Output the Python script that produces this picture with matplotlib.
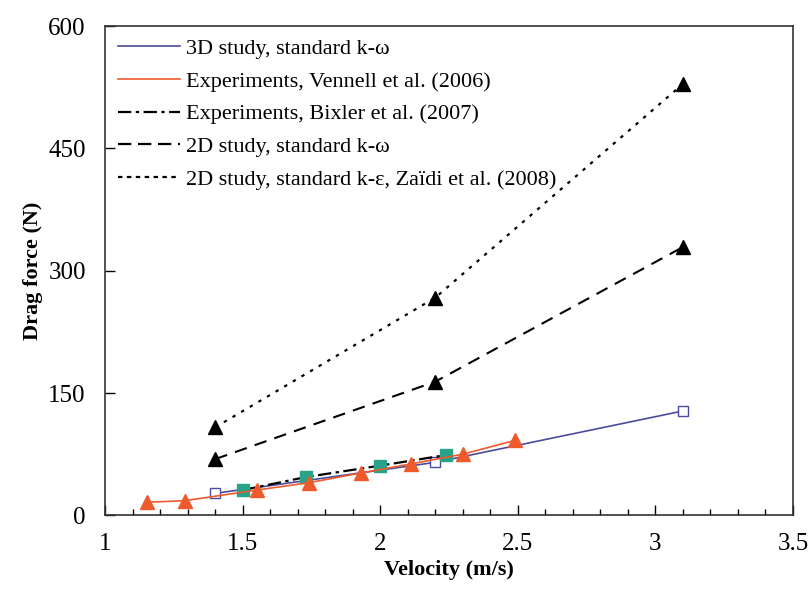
import numpy as np
import matplotlib.pyplot as plt
from matplotlib.lines import Line2D

plt.rcParams['font.family'] = ['Liberation Serif', 'DejaVu Serif']

# 3D study, standard k-omega
v_3d = [1.4, 2.2, 3.1]
f_3d = [27, 65, 128]

# Experiments, Vennell et al. (2006)
v_ven = [1.15, 1.29, 1.55, 1.74, 1.93, 2.11, 2.30, 2.49]
f_ven = [16, 18, 31, 40, 52, 63, 75, 92]

# Experiments, Bixler et al. (2007)
v_bix = [1.5, 1.73, 2.0, 2.24]
f_bix = [31, 47, 61, 74]

# 2D study, standard k-omega
v_2d = [1.4, 2.2, 3.1]
f_2d = [69, 164, 329]

# 2D study, standard k-epsilon, Zaidi et al. (2008)
v_zai = [1.4, 2.2, 3.1]
f_zai = [108, 267, 529]

labels = ['3D study, standard k-\u03c9',
          'Experiments, Vennell et al. (2006)',
          'Experiments, Bixler et al. (2007)',
          '2D study, standard k-\u03c9',
          '2D study, standard k-\u03b5, Za\u00efdi et al. (2008)']

blue = '#4b4b9e'
red = '#ef5a2c'
teal = '#26a389'

fig = plt.figure(figsize=(8.1, 5.91), dpi=100)
ax = fig.add_axes([0.13, 0.128, 0.849, 0.828])

ax.plot(v_zai, f_zai, color='black', linestyle=(0, (1.5, 3)), linewidth=1.6,
        marker='^', markersize=10, markerfacecolor='black')
ax.plot(v_2d, f_2d, color='black', linestyle=(0, (6, 4)), linewidth=1.5,
        marker='^', markersize=10, markerfacecolor='black')
ax.plot(v_3d, f_3d, color=blue, linewidth=1.2, marker='s', markersize=7,
        markerfacecolor='white', markeredgecolor=blue, zorder=3)
ax.plot(v_bix, f_bix, color='black', linestyle=(0, (6, 2, 1.5, 2)), linewidth=1.6,
        marker='s', markersize=8, markerfacecolor=teal, markeredgecolor=teal,
        zorder=3)
ax.plot(v_ven, f_ven, color=red, linewidth=1.2, marker='^', markersize=10,
        markerfacecolor=red, markeredgecolor=red, zorder=4)

handles = [Line2D([], [], color=blue, linewidth=1.2),
           Line2D([], [], color=red, linewidth=1.2),
           Line2D([], [], color='black', linestyle=(0, (6, 2, 1.5, 2)), linewidth=1.6),
           Line2D([], [], color='black', linestyle=(0, (6, 3)), linewidth=1.6),
           Line2D([], [], color='black', linestyle=(0, (2, 2)), linewidth=1.6)]
ax.legend(handles, labels, loc='upper left', frameon=False, fontsize=16,
          handlelength=2.8, handletextpad=0.3, labelspacing=0.55,
          borderaxespad=0.15, bbox_to_anchor=(0.0, 1.0))

ax.set_xlim(1, 3.5)
ax.set_ylim(0, 600)
ax.set_xticks([1, 1.5, 2, 2.5, 3, 3.5])
ax.set_xticklabels(['1', '1.5', '2', '2.5', '3', '3.5'])
ax.set_xticks(np.arange(1, 3.5, 0.1), minor=True)
ax.set_yticks([0, 150, 300, 450, 600])
ax.tick_params(axis='both', which='major', direction='in', length=7,
               labelsize=18, width=1)
ax.tick_params(axis='x', which='major', pad=13)
ax.tick_params(axis='y', which='major', pad=14)
ax.tick_params(axis='x', which='minor', direction='in', length=4, width=1)
for s in ax.spines.values():
    s.set_linewidth(1.2)
    s.set_color('#333333')

ax.set_xlabel('Velocity (m/s)', fontsize=16, fontweight='bold', labelpad=3)
ax.set_ylabel('Drag force (N)', fontsize=16, fontweight='bold', labelpad=4)

fig.savefig('out.png', dpi=100, facecolor='white')
